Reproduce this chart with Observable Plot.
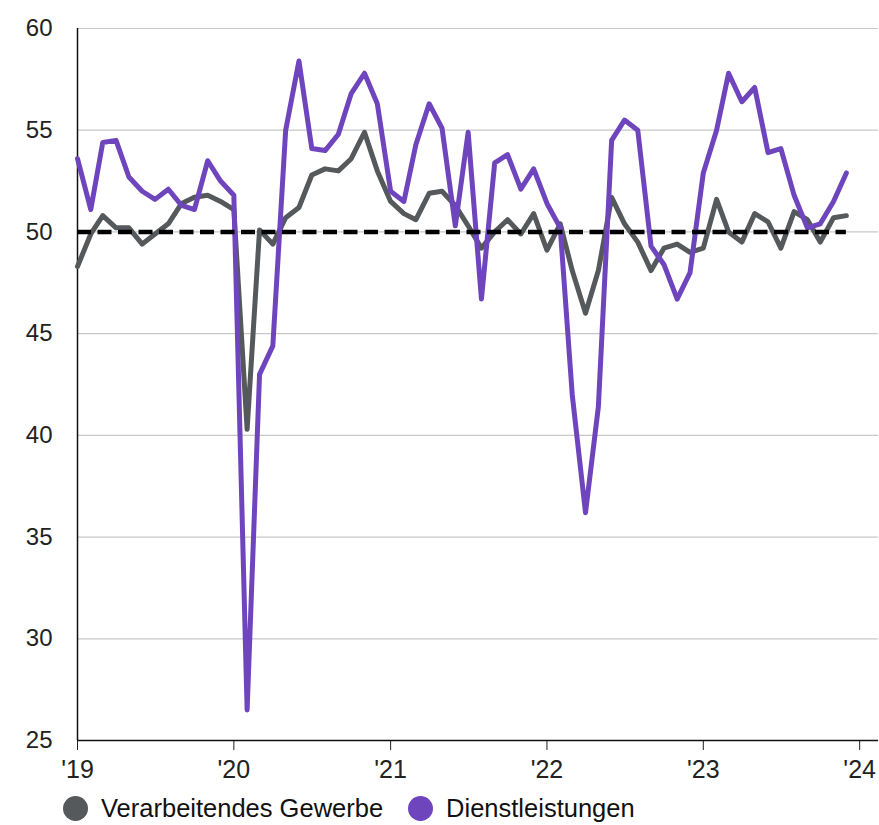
<!DOCTYPE html>
<html>
<head>
<meta charset="utf-8">
<script src="https://cdn.jsdelivr.net/npm/d3@7"></script>
<script src="https://cdn.jsdelivr.net/npm/@observablehq/plot@0.6"></script>
<style>
  html, body { margin: 0; padding: 0; background: #fff; }
  body { width: 879px; font-family: "Liberation Sans", Arial, sans-serif; }
  .legend { display: flex; align-items: center; height: 33px; padding-left: 63px; font-size: 25.5px; color: #111; }
  .legend .item { display: flex; align-items: center; margin-right: 25px; }
  .legend .dot { width: 25px; height: 25px; border-radius: 50%; margin-right: 13px; }
</style>
</head>
<body>
<div id="chart"></div>
<script>
// Monthly PMI readings, January 2019 – December 2023
const startMonth = "2019-01-01";
const seriesNames = ["Verarbeitendes Gewerbe", "Dienstleistungen"];
const seriesColors = ["#55595c", "#6f45be"];

const manufacturing = [
  48.3, 49.9, 50.8, 50.2, 50.2, 49.4, 49.9, 50.4, 51.4, 51.7, 51.8, 51.5,
  51.1, 40.3, 50.1, 49.4, 50.7, 51.2, 52.8, 53.1, 53.0, 53.6, 54.9, 53.0,
  51.5, 50.9, 50.6, 51.9, 52.0, 51.3, 50.3, 49.2, 50.0, 50.6, 49.9, 50.9,
  49.1, 50.4, 48.1, 46.0, 48.1, 51.7, 50.4, 49.5, 48.1, 49.2, 49.4, 49.0,
  49.2, 51.6, 50.0, 49.5, 50.9, 50.5, 49.2, 51.0, 50.6, 49.5, 50.7, 50.8
];
const services = [
  53.6, 51.1, 54.4, 54.5, 52.7, 52.0, 51.6, 52.1, 51.3, 51.1, 53.5, 52.5,
  51.8, 26.5, 43.0, 44.4, 55.0, 58.4, 54.1, 54.0, 54.8, 56.8, 57.8, 56.3,
  52.0, 51.5, 54.3, 56.3, 55.1, 50.3, 54.9, 46.7, 53.4, 53.8, 52.1, 53.1,
  51.4, 50.2, 42.0, 36.2, 41.4, 54.5, 55.5, 55.0, 49.3, 48.4, 46.7, 48.0,
  52.9, 55.0, 57.8, 56.4, 57.1, 53.9, 54.1, 51.8, 50.2, 50.4, 51.5, 52.9
];
const threshold = 50;
const yTicks = [25, 30, 35, 40, 45, 50, 55, 60];
const yearTicks = ["2019", "2020", "2021", "2022", "2023", "2024"];
const xEnd = "2024-02-14";

const first = new Date(startMonth);
const dates = manufacturing.map((_, i) => d3.utcMonth.offset(first, i));

const rows = [
  ...manufacturing.map((v, i) => ({date: dates[i], value: v, series: seriesNames[0]})),
  ...services.map((v, i) => ({date: dates[i], value: v, series: seriesNames[1]}))
];

const xDomain = [first, new Date(xEnd)];
const font = "'Liberation Sans', Arial, sans-serif";

const chart = Plot.plot({
  width: 879,
  height: 792,
  marginLeft: 77,
  marginRight: 1,
  marginTop: 28,
  marginBottom: 52,
  style: {fontFamily: font, fontSize: "24px", color: "#222", background: "#fff"},
  x: {type: "utc", domain: xDomain},
  y: {domain: [25, 60]},
  color: {domain: seriesNames, range: seriesColors},
  marks: [
    Plot.gridY(yTicks.filter(t => t > 25), {stroke: "#c8c8c8", strokeOpacity: 1, strokeWidth: 1.2}),
    Plot.axisY(yTicks, {tickSize: 0, tickPadding: 25, label: null, fontSize: 24}),
    Plot.axisX(yearTicks.map(y => new Date(y + "-01-01")), {
      tickSize: 10, tickPadding: 10, label: null, fontSize: 25,
      tickFormat: d => "'" + String(d.getUTCFullYear()).slice(2), stroke: "#222"
    }),
    Plot.ruleX([first], {y1: 25, y2: 60, stroke: "#111", strokeWidth: 1.5}),
    Plot.ruleY([25], {stroke: "#111", strokeWidth: 1.5}),
    Plot.lineY(rows.filter(d => d.series === seriesNames[0]), {
      x: "date", y: "value", stroke: "series", strokeWidth: 5
    }),
    Plot.lineY(rows.filter(d => d.series === seriesNames[1]), {
      x: "date", y: "value", stroke: "series", strokeWidth: 5
    }),
    Plot.ruleY([threshold], {
      x1: dates[0], x2: dates[dates.length - 1],
      stroke: "#000", strokeWidth: 4.5, strokeDasharray: "14,6.5"
    })
  ]
});

document.getElementById("chart").append(chart);

const legend = document.createElement("div");
legend.className = "legend";
seriesNames.forEach((name, i) => {
  const item = document.createElement("div");
  item.className = "item";
  const dot = document.createElement("span");
  dot.className = "dot";
  dot.style.background = seriesColors[i];
  const label = document.createElement("span");
  label.textContent = name;
  item.append(dot, label);
  legend.append(item);
});
document.getElementById("chart").append(legend);
</script>
</body>
</html>
